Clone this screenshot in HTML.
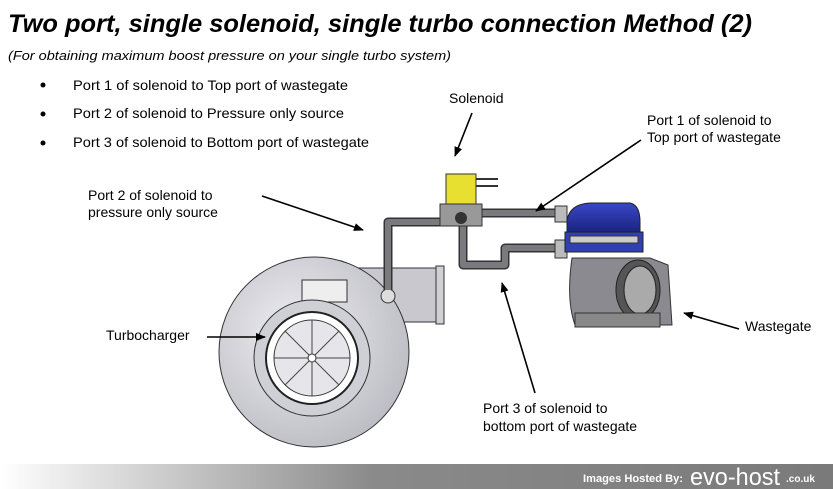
<!DOCTYPE html>
<html><head><style>
body{margin:0;background:#fff;}
svg{display:block;font-family:"Liberation Sans",Arial,sans-serif;}
</style></head><body>
<svg width="833" height="489" viewBox="0 0 833 489" xmlns="http://www.w3.org/2000/svg">
<defs>
<linearGradient id="bar" x1="0" x2="1"><stop offset="0" stop-color="#fff"/><stop offset="0.45" stop-color="#8a8a8a"/><stop offset="1" stop-color="#7a7a7a"/></linearGradient>
<radialGradient id="tg" cx="0.4" cy="0.4" r="0.7"><stop offset="0" stop-color="#eeeef2"/><stop offset="1" stop-color="#b8b8c0"/></radialGradient>
<linearGradient id="bl" x1="0" y1="0" x2="0" y2="1"><stop offset="0" stop-color="#3a48c8"/><stop offset="1" stop-color="#1a2480"/></linearGradient>
<marker id="ah" markerWidth="10" markerHeight="8" refX="9" refY="4" orient="auto" markerUnits="userSpaceOnUse"><path d="M0,0 L10,4 L0,8z" fill="#000"/></marker>
</defs>
<text x="8" y="32" font-size="25" font-weight="bold" font-style="italic" textLength="744" lengthAdjust="spacingAndGlyphs">Two port, single solenoid, single turbo connection Method (2)</text>
<text x="8" y="60" font-size="13" font-style="italic" textLength="443" lengthAdjust="spacingAndGlyphs">(For obtaining maximum boost pressure on your single turbo system)</text>
<g font-size="14">
<circle cx="43" cy="85" r="2.5"/><text x="73" y="90" textLength="275" lengthAdjust="spacingAndGlyphs">Port 1 of solenoid to Top port of wastegate</text>
<circle cx="43" cy="114" r="2.5"/><text x="73" y="118" textLength="271" lengthAdjust="spacingAndGlyphs">Port 2 of solenoid to Pressure only source</text>
<circle cx="43" cy="143" r="2.5"/><text x="73" y="147" textLength="296" lengthAdjust="spacingAndGlyphs">Port 3 of solenoid to Bottom port of wastegate</text>
<text x="449" y="103">Solenoid</text>
<text x="647" y="125">Port 1 of solenoid to</text><text x="647" y="142">Top port of wastegate</text>
<text x="88" y="200">Port 2 of solenoid to</text><text x="88" y="217">pressure only source</text>
<text x="106" y="340">Turbocharger</text>
<text x="745" y="331">Wastegate</text>
<text x="483" y="413">Port 3 of solenoid to</text><text x="483" y="431">bottom port of wastegate</text>
</g>
<!-- turbo -->
<rect x="300" y="268" width="142" height="54" fill="#c8c8ce" stroke="#333"/>
<rect x="436" y="266" width="8" height="58" fill="#d0d0d6" stroke="#333"/>
<circle cx="314" cy="352" r="95" fill="url(#tg)" stroke="#333"/>
<rect x="302" y="280" width="45" height="22" fill="#eee" stroke="#333"/>
<circle cx="312" cy="358" r="58" fill="#cfcfd6" stroke="#333"/>
<circle cx="312" cy="358" r="46" fill="#fff" stroke="#222" stroke-width="2"/>
<circle cx="312" cy="358" r="38" fill="#e6e6ea" stroke="#333"/>
<g stroke="#444" stroke-width="1">
<line x1="312" y1="320" x2="312" y2="396"/><line x1="274" y1="358" x2="350" y2="358"/>
<line x1="285" y1="331" x2="339" y2="385"/><line x1="339" y1="331" x2="285" y2="385"/>
</g>
<circle cx="312" cy="358" r="4" fill="#fff" stroke="#333"/>
<circle cx="388" cy="296" r="7" fill="#ddd" stroke="#333"/>
<!-- pipes -->
<g fill="none" stroke="#333" stroke-width="9" stroke-linejoin="round">
<path d="M388 290 V222 H445"/><path d="M480 213 H560"/>
<path d="M463 222 V265 H505 V248 H560"/>
</g>
<g fill="none" stroke="#7a7a7e" stroke-width="6" stroke-linejoin="round">
<path d="M388 290 V222 H445"/><path d="M480 213 H560"/>
<path d="M463 222 V265 H505 V248 H560"/>
</g>
<!-- solenoid -->
<rect x="446" y="174" width="30" height="32" fill="#e8e030" stroke="#333"/>
<line x1="476" y1="179" x2="498" y2="179" stroke="#333" stroke-width="2"/><line x1="476" y1="186" x2="498" y2="186" stroke="#333" stroke-width="2"/>
<rect x="440" y="204" width="42" height="22" fill="#999" stroke="#333"/>
<circle cx="461" cy="218" r="6" fill="#333"/>
<!-- wastegate -->
<rect x="555" y="206" width="12" height="16" fill="#bbb" stroke="#333"/>
<rect x="555" y="240" width="12" height="18" fill="#bbb" stroke="#333"/>
<path d="M567 220 Q570 204 590 203 H630 Q640 205 640 222 V232 H567z" fill="url(#bl)" stroke="#222"/>
<rect x="565" y="232" width="78" height="20" fill="#3040b0" stroke="#222"/>
<rect x="570" y="236" width="68" height="7" fill="#ccc" stroke="#333"/>
<path d="M572 258 H650 L668 265 L672 325 H575 Q566 300 572 258z" fill="#8a8a90" stroke="#333"/>
<ellipse cx="638" cy="290" rx="22" ry="30" fill="#555" stroke="#222"/>
<ellipse cx="640" cy="290" rx="16" ry="24" fill="#aaa" stroke="#222"/>
<rect x="575" y="313" width="85" height="14" fill="#888" stroke="#333"/>
<!-- arrows -->
<g stroke="#000" stroke-width="1.6" marker-end="url(#ah)">
<line x1="472" y1="113" x2="455" y2="156"/>
<line x1="641" y1="140" x2="536" y2="211"/>
<line x1="262" y1="196" x2="363" y2="230"/>
<line x1="207" y1="337" x2="265" y2="337"/>
<line x1="739" y1="329" x2="684" y2="313"/>
<line x1="535" y1="393" x2="502" y2="283"/>
</g>
<!-- footer -->
<rect x="0" y="464" width="833" height="25" fill="url(#bar)"/>
<text x="583" y="482" font-size="11" font-weight="bold" fill="#fff" textLength="100" lengthAdjust="spacingAndGlyphs">Images Hosted By:</text>
<text x="690" y="485" font-size="24" fill="#fff" textLength="90" lengthAdjust="spacingAndGlyphs">evo-host</text>
<text x="786" y="482" font-size="10" font-weight="bold" fill="#fff">.co.uk</text>
</svg>
</body></html>
